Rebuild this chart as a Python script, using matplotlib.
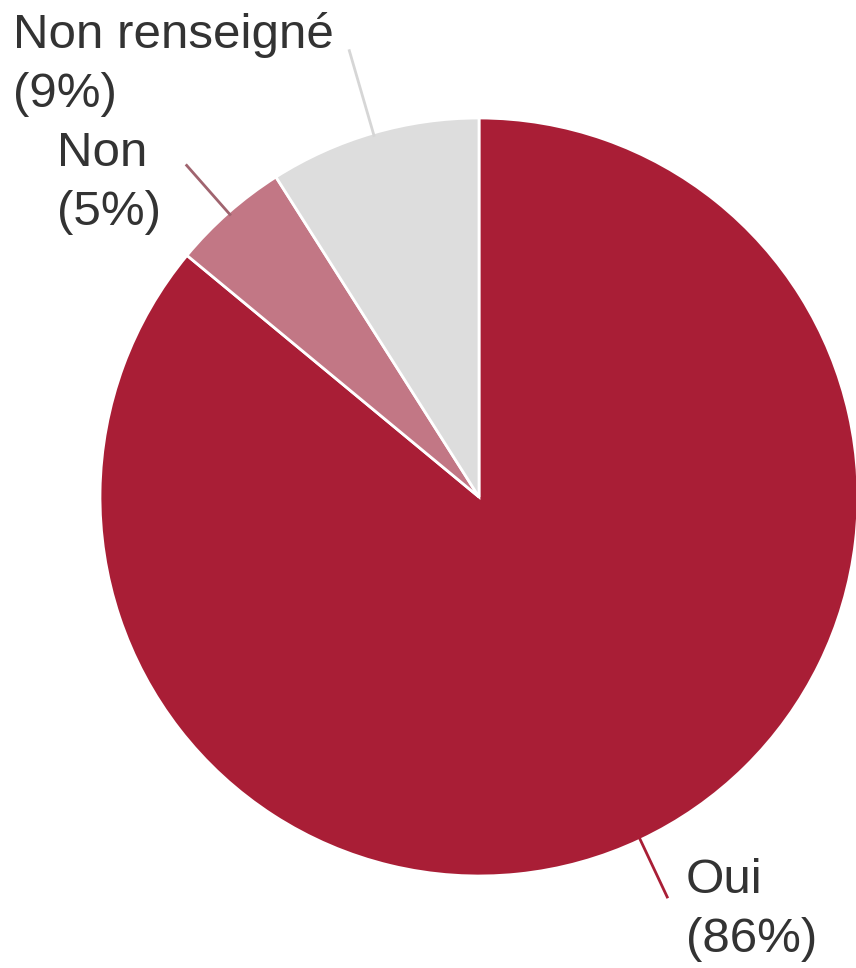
import matplotlib
matplotlib.use('Agg')
import matplotlib.pyplot as plt
import numpy as np

labels = ['Oui', 'Non', 'Non renseigné']
shares = [86, 5, 9]
colors = ['#a91e36', '#c27785', '#dddddd']
line_colors = ['#a91e36', '#a0646f', '#d6d6d6']
# label anchor (left, top) in image pixels, leader line length (in radii)
label_pos = [(686, 858), (57, 131), (13, 12)]
leader_len = [1.17, 1.17, 1.23]

W, H = 856, 968
fig = plt.figure(figsize=(W / 100, H / 100), dpi=100)
ax = fig.add_axes([0, 0, 1, 1])

cx, cy, r = 479, H - 497, 379
wedges, _ = ax.pie(shares, colors=colors, startangle=90, counterclock=False,
                   center=(cx, cy), radius=r, frame=True,
                   wedgeprops=dict(edgecolor='white', linewidth=2))

for w, lab, val, lc, (tx, ty), ll in zip(wedges, labels, shares, line_colors, label_pos, leader_len):
    mid = np.deg2rad((w.theta1 + w.theta2) / 2)
    x0, y0 = cx + 0.99 * r * np.cos(mid), cy + 0.99 * r * np.sin(mid)
    x1, y1 = cx + ll * r * np.cos(mid), cy + ll * r * np.sin(mid)
    ax.plot([x0, x1], [y0, y1], color=lc, lw=2, solid_capstyle='butt')
    ax.text(tx, H - ty, '{}\n({}%)'.format(lab, val), ha='left', va='top',
            fontsize=35.5, family='Liberation Sans', color='#333333', linespacing=1.4)

ax.set_xlim(0, W)
ax.set_ylim(0, H)
ax.axis('off')
fig.savefig('out.png', dpi=100)
